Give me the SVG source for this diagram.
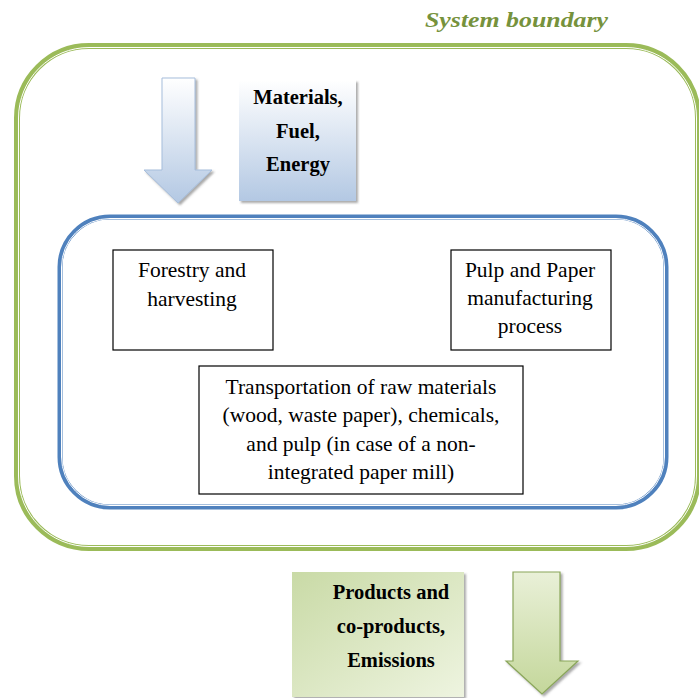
<svg xmlns="http://www.w3.org/2000/svg" width="699" height="698" viewBox="0 0 699 698">
<style>
.box{fill:#fff;stroke:#000;stroke-width:1.2}
.t{font-family:'Liberation Serif','Times New Roman',serif;font-size:21.5px;fill:#000;text-anchor:middle}
.b{font-family:'Liberation Serif','Times New Roman',serif;font-size:20.5px;font-weight:bold;fill:#000;text-anchor:middle}
.ti{font-family:'Liberation Serif','Times New Roman',serif;font-size:22px;font-style:italic;font-weight:bold;fill:#76923c}
</style>
<defs>
<linearGradient id="gb" x1="0" y1="0" x2="0" y2="1"><stop offset="0" stop-color="#ffffff"/><stop offset="1" stop-color="#b3c8e3"/></linearGradient>
<linearGradient id="gg" x1="0" y1="0" x2="1" y2="1"><stop offset="0" stop-color="#c9daa6"/><stop offset="1" stop-color="#eef4e0"/></linearGradient>
<linearGradient id="ga" x1="0" y1="0" x2="0" y2="1"><stop offset="0" stop-color="#e9f0d8"/><stop offset="1" stop-color="#c4d79b"/></linearGradient>
<filter id="sh" x="-10%" y="-10%" width="130%" height="130%"><feDropShadow dx="2" dy="2" stdDeviation="1.2" flood-color="#555" flood-opacity="0.5"/></filter>
</defs>
<rect width="699" height="698" fill="#fff"/>
<text class="ti" x="425" y="27" textLength="183" lengthAdjust="spacingAndGlyphs">System boundary</text>
<g id="system-boundary">
<rect x="17" y="46" width="681" height="502" rx="72" fill="none" stroke="#9bbb59" stroke-width="6"/>
<rect x="18.5" y="47.5" width="678" height="499" rx="70.5" fill="none" stroke="#fff" stroke-width="1"/>
</g>
<g id="inner-boundary">
<rect x="60" y="217" width="606" height="290" rx="50" fill="none" stroke="#4f81bd" stroke-width="5"/>
<rect x="61.5" y="218.5" width="603" height="287" rx="48.5" fill="none" stroke="#fff" stroke-width="1"/>
</g>
<g id="input-arrow">
<path d="M162,78 H195 V170 H212 L178,203 L144,170 H162 Z" fill="url(#gb)" stroke="#a6bddb" stroke-width="1" filter="url(#sh)"/>
</g>
<g id="inputs">
<rect x="239" y="80" width="117" height="121" fill="url(#gb)" filter="url(#sh)"/>
<text class="b" x="298" y="104">Materials,</text>
<text class="b" x="298" y="138">Fuel,</text>
<text class="b" x="298" y="171">Energy</text>
</g>
<g id="forestry">
<rect class="box" x="113" y="250" width="160" height="100"/>
<text class="t" x="192" y="277">Forestry and</text>
<text class="t" x="192" y="306">harvesting</text>
</g>
<g id="pulp-paper">
<rect class="box" x="451" y="250" width="160" height="100"/>
<text class="t" x="530" y="277">Pulp and Paper</text>
<text class="t" x="530" y="305">manufacturing</text>
<text class="t" x="530" y="333">process</text>
</g>
<g id="transportation">
<rect class="box" x="199" y="366" width="324" height="128"/>
<text class="t" x="361" y="394">Transportation of raw materials</text>
<text class="t" x="361" y="422">(wood, waste paper), chemicals,</text>
<text class="t" x="361" y="451">and pulp (in case of a non-</text>
<text class="t" x="361" y="479">integrated paper mill)</text>
</g>
<g id="outputs">
<rect x="292" y="572" width="172" height="125" fill="url(#gg)" filter="url(#sh)"/>
<text class="b" x="391" y="599">Products and</text>
<text class="b" x="391" y="633">co-products,</text>
<text class="b" x="391" y="667">Emissions</text>
</g>
<g id="output-arrow">
<path d="M513,572 H560 V661 H578 L542,694 L506,661 H513 Z" fill="url(#ga)" stroke="#8aa65a" stroke-width="1.2" filter="url(#sh)"/>
</g>
</svg>
